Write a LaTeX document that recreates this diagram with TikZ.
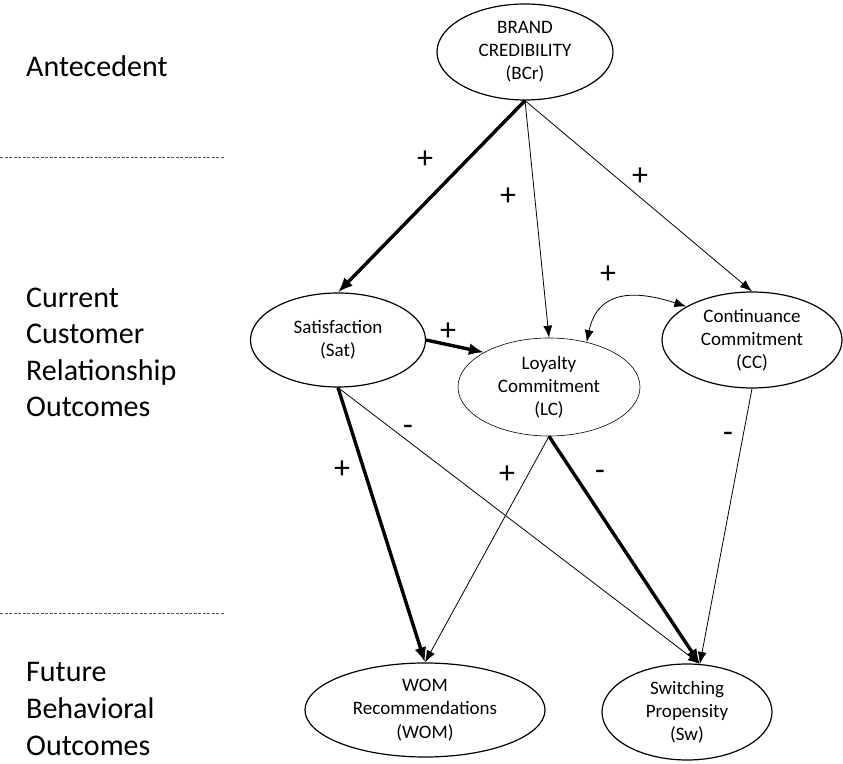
\documentclass[tikz,border=0pt]{standalone}
\usepackage{fontspec}
\setmainfont{Carlito}
\usepackage{tikz}
\definecolor{gray600}{HTML}{555555}
\usetikzlibrary{arrows.meta,shapes.geometric}
\tikzstyle{construto}=[ellipse, draw=black, line width=1.2pt, align=center, inner sep=0pt, font=\fontsize{19}{23.2}\selectfont]
\tikzstyle{camada}=[anchor=base west, align=left, inner sep=0pt, font=\fontsize{30}{36.6}\selectfont]
\tikzstyle{sinal}=[inner sep=0pt, font=\fontsize{32}{36}\selectfont]
\tikzstyle{fina}=[line width=0.8pt, -{Latex[length=12pt,width=9pt]}]
\tikzstyle{grossa}=[line width=3.4pt, -{Latex[length=15pt,width=12pt]}]
\tikzstyle{divisa}=[draw=gray600, line width=0.8pt, dash pattern=on 3pt off 1.5pt]

\begin{document}
\begin{tikzpicture}[x=1pt, y=1pt]
		\useasboundingbox (0,0) rectangle (843,763);
		% niveis do modelo (ancora na ultima linha)
		\node[camada](antec) at (26,686) {Antecedent};
		\node[camada](atual) at (26,346) {Current\\Customer\\Relationship\\Outcomes};
		\node[camada](futur) at (26,8) {Future\\Behavioral\\Outcomes};
		\path[divisa] (0,606) -- (224,606)
			(0,150) -- (224,150);
		% construtos
		\node[construto, minimum width=176pt, minimum height=96pt](BCr) at (525,711) {BRAND\\CREDIBILITY\\(BCr)};
		\node[construto, minimum width=175pt, minimum height=94pt](Sat) at (338,423) {Satisfaction\\(Sat)};
		\node[construto, line width=0.6pt, minimum width=182pt, minimum height=98pt](LC) at (549,376) {Loyalty\\Commitment\\(LC)};
		\node[construto, minimum width=180pt, minimum height=96pt](CC) at (752,423) {Continuance\\Commitment\\(CC)};
		\node[construto, minimum width=240pt, minimum height=94pt](WOM) at (425,53) {WOM\\Recommendations\\(WOM)};
		\node[construto, minimum width=170pt, minimum height=96pt](Sw) at (687,51) {Switching\\Propensity\\(Sw)};
		% caminhos
		\draw[grossa] (BCr.south) -- (Sat.north);
		\draw[fina] (BCr.south) -- (LC.north);
		\draw[fina] (BCr.south) -- (CC.north);
		\draw[grossa] (Sat.east) -- (LC.152);
		\draw[fina, {Latex[length=12pt,width=9pt]}-{Latex[length=12pt,width=9pt]}] (LC.50) to[out=78, in=162, looseness=1.3] (CC.153);
		\draw[grossa] (Sat.south) -- (WOM.north);
		\draw[fina] (Sat.south) -- (Sw.75);
		\draw[fina] (LC.south) -- (WOM.north);
		\draw[grossa] (LC.south) -- (Sw.75);
		\draw[fina] (CC.south) -- (Sw.75);
		% sinais
		\node[sinal](s1) at (425,603) {+};
		\node[sinal](s2) at (508,566) {+};
		\node[sinal](s3) at (640,586) {+};
		\node[sinal](s4) at (448,431) {+};
		\node[sinal](s5) at (608,488) {+};
		\node[sinal](s6) at (342,293) {+};
		\node[sinal](s7) at (408,333) {-};
		\node[sinal](s8) at (507,288) {+};
		\node[sinal](s9) at (600,288) {-};
		\node[sinal](s10) at (728,326) {-};
	\end{tikzpicture}
\end{document}
